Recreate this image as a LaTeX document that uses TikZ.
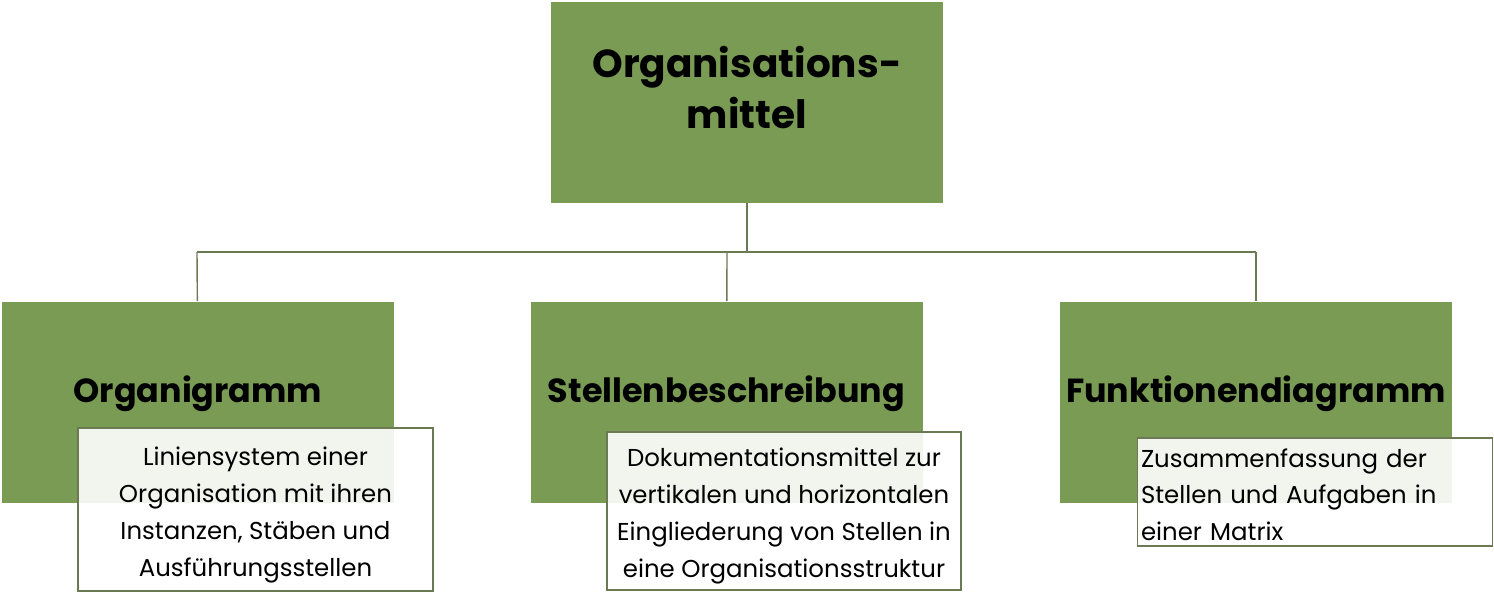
\documentclass[tikz,border=0pt]{standalone}
\usepackage{fontspec}
\setmainfont{Poppins}
\definecolor{gruen}{RGB}{122,155,83}
\definecolor{rand}{RGB}{108,122,84}

\begin{document}
\begin{tikzpicture}[kasten/.style = {fill=gruen,minimum width=7.84cm,minimum height=4.02cm,font=\bfseries\fontsize{19}{25}\selectfont,align=center,text height=0.6cm,text depth=0.6cm},
notiz/.style = {fill=white,fill opacity=0.9,text opacity=1,draw=rand,line width=0.6pt,font=\fontsize{13.9}{21}\selectfont,align=center,inner sep=2pt,text depth=0cm},
linie/.style = {draw=rand,line width=0.8pt}]
\useasboundingbox (0,0) rectangle (29.88,12);

\node[kasten,font=\bfseries\fontsize{22.2}{29}\selectfont,text height=1.6cm,text depth=0.56cm] (M) at (14.94,9.95) {Organisations-\\mittel};
\node[kasten] (O) at (3.96,3.96) {Organigramm};
\node[kasten] (S) at (14.53,3.96) {Stellenbeschreibung};
\node[kasten] (F) at (25.12,3.96) {Funktionendiagramm};

\coordinate (J) at (14.94,6.96);
\coordinate (JO) at (3.94,6.96);
\coordinate (JS) at (14.54,6.96);
\coordinate (JF) at (25.12,6.96);

\draw[linie] (M) -- (J);
\draw[linie] (JO) -- (JF);
\draw[linie] (JO) -- (O);
\draw[linie] (JS) -- (S);
\draw[linie] (JF) -- (F);

\node[notiz,minimum width=7.10cm,minimum height=3.26cm,text height=2.66cm] (O1) at (5.11,1.81) {Liniensystem einer\\Organisation mit ihren\\Instanzen, Stäben und\\Ausführungsstellen};
\node[notiz,minimum width=7.08cm,minimum height=3.16cm,text height=2.64cm] (S1) at (15.68,1.78) {Dokumentationsmittel zur\\vertikalen und horizontalen\\Eingliederung von Stellen in\\eine Organisationsstruktur};
\node[notiz,align=left,text width=6.96cm,minimum height=2.16cm,text height=0.3cm,text depth=1.3cm] (F1) at (26.3,2.16) {Zusammenfassung der\\Stellen und Aufgaben in\\einer Matrix};
\end{tikzpicture}
\end{document}
